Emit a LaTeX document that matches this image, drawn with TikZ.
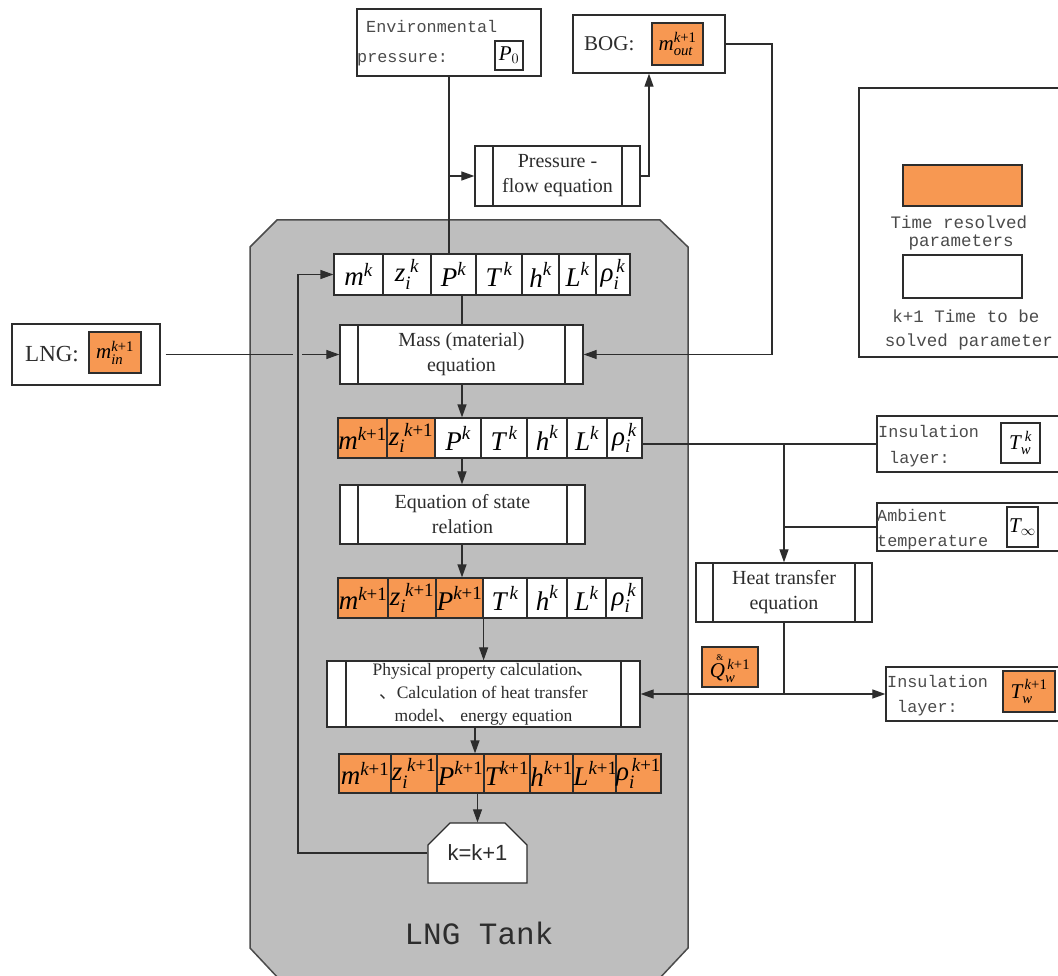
\documentclass[tikz,border=0pt]{standalone}
\usepackage{amsmath}
\usepackage{fontspec}
\setmainfont{Liberation Serif}
\newfontfamily\monof{Liberation Mono}
\newfontfamily\sansf{Liberation Sans}
\newfontfamily\cjk{Noto Sans CJK SC}
\usetikzlibrary{arrows.meta,shapes.misc,calc}
\definecolor{orng}{RGB}{247,152,82}
\definecolor{tankgray}{RGB}{190,190,190}
\definecolor{ink}{RGB}{45,45,45}
\definecolor{monogray}{RGB}{75,75,75}
\newcommand\vi[1]{\textit{#1}}
\newcommand\kp{\text{\itshape k\upshape +1}}
\newcommand\cc{{\cjk 、}}
\tikzset{
  cell/.style={draw=ink, line width=1.2pt, fill=white, inner sep=0pt,
    font=\fontsize{27}{30}\selectfont},
  ocell/.style={cell, fill=orng},
  smallbox/.style={draw=ink, line width=1.2pt, fill=white, inner sep=0pt,
    font=\fontsize{21}{22}\selectfont},
  osmallbox/.style={smallbox, fill=orng},
  framebox/.style={draw=ink, line width=1.3pt, fill=white, inner sep=0pt},
  proc/.style={draw=ink, line width=1.3pt, fill=white, inner sep=0pt,
    align=center, text=ink, font=\fontsize{20}{25}\selectfont,
    path picture={\draw[ink, line width=1.2pt]
      ([xshift=#1]path picture bounding box.north west) --
      ([xshift=#1]path picture bounding box.south west)
      ([xshift=-#1]path picture bounding box.north east) --
      ([xshift=-#1]path picture bounding box.south east);}},
  proc/.default=18pt,
  monolbl/.style={font=\monof\fontsize{16.8}{18}\selectfont, text=monogray, inner sep=0pt},
  conn/.style={draw=ink, line width=1.2pt},
  arr/.style={conn, -{Triangle[length=13pt,width=9pt]}},
}
\begin{document}
\begin{tikzpicture}[x=1pt,y=-1pt]
\useasboundingbox (0,0) rectangle (1058,976);
\fill[white] (0,0) rectangle (1058,976);
% tank
\filldraw[fill=tankgray, draw=monogray, line width=1.5pt]
  (277,220) -- (660,220) -- (688,247) -- (688,948) -- (658,980)
  -- (280,980) -- (250,948) -- (250,247) -- cycle;
\node[font=\monof\fontsize{31}{34}\selectfont, text=ink] (tanklbl) at (479,933) {LNG Tank};

% environmental pressure
\node[framebox, minimum width=184pt, minimum height=67pt] (env) at (449,42.5) {};
\node[monolbl, anchor=base west] (envt1) at (366,33) {Environmental};
\node[monolbl, anchor=base west] (envt2) at (357,63) {pressure:};
\node[smallbox, minimum width=28pt, minimum height=29pt] (p0) at (509,55.5) {$\vi{P}_{0}$};

% BOG
\node[framebox, minimum width=152pt, minimum height=58pt] (bog) at (649,44) {};
\node[anchor=west, inner sep=0pt, text=ink, font=\fontsize{21}{22}\selectfont] (bogt) at (584,44) {BOG:};
\node[osmallbox, minimum width=51pt, minimum height=42pt] (mout) at (677.5,44) {$\vi{m}_{\vi{out}}^{\kp}$};

% pressure-flow equation
\node[proc, minimum width=165pt, minimum height=60pt] (press) at (557.5,176) {Pressure -\\flow equation};

% LNG inflow
\node[framebox, minimum width=148pt, minimum height=61pt] (lng) at (86,354.5) {};
\node[anchor=west, inner sep=0pt, text=ink, font=\fontsize{23}{24}\selectfont] (lngt) at (25,354.5) {LNG:};
\node[osmallbox, minimum width=52pt, minimum height=41pt] (min) at (115,352.5) {$\vi{m}_{\vi{in}}^{\kp}$};

% legend
\node[framebox, minimum width=203pt, minimum height=269pt] (legend) at (960.5,222.5) {};
\node[framebox, fill=orng, minimum width=119pt, minimum height=41pt] (legor) at (962.5,185.5) {};
\node[monolbl, font=\monof\fontsize{17.5}{18}\selectfont, anchor=base] (legt1) at (959,229) {Time resolved};
\node[monolbl, font=\monof\fontsize{17.5}{18}\selectfont, anchor=base] (legt2) at (961,247) {parameters};
\node[framebox, minimum width=119pt, minimum height=43pt] (legwh) at (962.5,276.5) {};
\node[monolbl, font=\monof\fontsize{17.5}{18}\selectfont, anchor=base] (legt3) at (966,323) {k+1 Time to be};
\node[monolbl, font=\monof\fontsize{17.5}{18}\selectfont, anchor=base] (legt4) at (969,347) {solved parameter};

% row 1
\node[cell, minimum width=49pt, minimum height=41pt] (r1m) at (358.5,274.5) {$\vi{m}^{\vi{k}}$};
\node[cell, minimum width=48pt, minimum height=41pt] (r1z) at (407,274.5) {$\vi{z}_{\vi{i}}^{\;\vi{k}}$};
\node[cell, minimum width=45pt, minimum height=41pt] (r1P) at (453.5,274.5) {$\vi{P}^{\vi{k}}$};
\node[cell, minimum width=46pt, minimum height=41pt] (r1T) at (499,274.5) {$\vi{T}^{\,\vi{k}}$};
\node[cell, minimum width=37pt, minimum height=41pt] (r1h) at (540.5,274.5) {$\vi{h}^{\vi{k}}$};
\node[cell, minimum width=37pt, minimum height=41pt] (r1L) at (577.5,274.5) {$\vi{L}^{\vi{k}}$};
\node[cell, minimum width=34pt, minimum height=41pt] (r1r) at (613,274.5) {$\vi{ρ}_{\vi{i}}^{\,\vi{k}}$};

% mass equation
\node[proc, minimum width=243pt, minimum height=59pt] (mass) at (461.5,354.5) {Mass (material)\\equation};

% row 2
\node[ocell, minimum width=49pt, minimum height=40pt] (r2m) at (362.5,438) {$\vi{m}^{\kp}$};
\node[ocell, minimum width=48pt, minimum height=40pt] (r2z) at (411,438) {$\vi{z}_{\vi{i}}^{\;\kp}$};
\node[cell, minimum width=46pt, minimum height=40pt] (r2P) at (458,438) {$\vi{P}^{\vi{k}}$};
\node[cell, minimum width=46pt, minimum height=40pt] (r2T) at (504,438) {$\vi{T}^{\,\vi{k}}$};
\node[cell, minimum width=40pt, minimum height=40pt] (r2h) at (547,438) {$\vi{h}^{\vi{k}}$};
\node[cell, minimum width=40pt, minimum height=40pt] (r2L) at (587,438) {$\vi{L}^{\vi{k}}$};
\node[cell, minimum width=35pt, minimum height=40pt] (r2r) at (624.5,438) {$\vi{ρ}_{\vi{i}}^{\,\vi{k}}$};

% equation of state
\node[proc, minimum width=245pt, minimum height=59pt] (eos) at (462.5,514.5) {Equation of state\\relation};

% row 3
\node[ocell, minimum width=50pt, minimum height=40pt] (r3m) at (363,598) {$\vi{m}^{\kp}$};
\node[ocell, minimum width=48pt, minimum height=40pt] (r3z) at (412,598) {$\vi{z}_{\vi{i}}^{\;\kp}$};
\node[ocell, minimum width=47pt, minimum height=40pt] (r3P) at (459.5,598) {$\vi{P}^{\kp}$};
\node[cell, minimum width=44pt, minimum height=40pt] (r3T) at (505,598) {$\vi{T}^{\,\vi{k}}$};
\node[cell, minimum width=40pt, minimum height=40pt] (r3h) at (547,598) {$\vi{h}^{\vi{k}}$};
\node[cell, minimum width=39pt, minimum height=40pt] (r3L) at (586.5,598) {$\vi{L}^{\vi{k}}$};
\node[cell, minimum width=36pt, minimum height=40pt] (r3r) at (624,598) {$\vi{ρ}_{\vi{i}}^{\,\vi{k}}$};

% physical property box
\node[proc=19pt, minimum width=313pt, minimum height=66pt, font=\fontsize{17.5}{23}\selectfont] (phys) at (483.5,694)
  {Physical property calculation\cc\\\cc Calculation of heat transfer\\model\cc\ energy equation};

% row 4
\node[ocell, minimum width=52pt, minimum height=39pt] (r4m) at (365,773.5) {$\vi{m}^{\kp}$};
\node[ocell, minimum width=46pt, minimum height=39pt] (r4z) at (414,773.5) {$\vi{z}_{\vi{i}}^{\;\kp}$};
\node[ocell, minimum width=47pt, minimum height=39pt] (r4P) at (460.5,773.5) {$\vi{P}^{\kp}$};
\node[ocell, minimum width=46pt, minimum height=39pt] (r4T) at (507,773.5) {$\vi{T}^{\kp}$};
\node[ocell, minimum width=43pt, minimum height=39pt] (r4h) at (551.5,773.5) {$\vi{h}^{\kp}$};
\node[ocell, minimum width=45pt, minimum height=39pt] (r4L) at (595.5,773.5) {$\vi{L}^{\kp}$};
\node[ocell, minimum width=41pt, minimum height=39pt] (r4r) at (638.5,773.5) {$\vi{ρ}_{\vi{i}}^{\,\kp}$};

% k=k+1
\node[chamfered rectangle, chamfered rectangle corners={north west,north east},
  chamfered rectangle xsep=13pt, chamfered rectangle ysep=14pt,
  draw=ink, line width=1.3pt, fill=white, inner sep=0pt,
  minimum width=99pt, minimum height=60pt, text=ink,
  font=\sansf\fontsize{22}{24}\selectfont] (kbox) at (477.5,853) {k=k+1};

% right side
\node[framebox, minimum width=185pt, minimum height=56pt] (ins1) at (969.5,444) {};
\node[monolbl, anchor=base west] (ins1t1) at (878,437) {Insulation};
\node[monolbl, anchor=base west] (ins1t2) at (889,463) {layer:};
\node[smallbox, minimum width=39pt, minimum height=40pt] (tw) at (1020.5,443) {$\vi{T}_{\vi{w}}^{\;\vi{k}}$};

\node[framebox, minimum width=185pt, minimum height=48pt] (amb) at (969.5,527) {};
\node[monolbl, anchor=base west] (ambt1) at (877,521) {Ambient};
\node[monolbl, anchor=base west] (ambt2) at (877,546) {temperature};
\node[smallbox, minimum width=31pt, minimum height=40pt] (tinf) at (1022.5,527) {$\vi{T}_{\infty}$};

\node[proc=17pt, minimum width=176pt, minimum height=59pt] (heat) at (784,592.5) {Heat transfer\\equation};

\node[osmallbox, minimum width=56pt, minimum height=40pt] (qbox) at (730,667)
  {$\overset{\raisebox{-7pt}{\small\hspace{5pt}\&}}{\vi{Q}}{}_{\vi{w}}^{\,\kp}$};

\node[framebox, minimum width=176pt, minimum height=54pt] (ins2) at (974,694) {};
\node[monolbl, anchor=base west] (ins2t1) at (887,687) {Insulation};
\node[monolbl, anchor=base west] (ins2t2) at (897,712) {layer:};
\node[osmallbox, minimum width=52pt, minimum height=41pt] (tw1) at (1029,691.5) {$\vi{T}_{\vi{w}}^{\,\kp}$};

% helper coordinates
\coordinate (col) at (462,0);
\coordinate (loopx) at (298,0);
\coordinate (bogturn) at (772,44);
\coordinate (physx) at (475,0);

% connectors
\draw[conn] (env.south) -- (env.south |- r1P.north);
\draw[arr] (env.south |- press.west) -- (press.west);
\draw[arr] (press.east) -| (bog.south);
\draw[arr] (bog.east) -- (bogturn) |- (mass.east);
\draw[conn] (col |- r1P.south) -- (col |- mass.north);
\draw[arr] (col |- mass.south) -- (col |- r2P.north);
\draw[arr] (col |- r2P.south) -- (col |- eos.north);
\draw[arr] (col |- eos.south) -- (col |- r3P.north);
\draw[arr] (r3P.south east) -- (r3P.south east |- phys.north);
\draw[arr] (physx |- phys.south) -- (physx |- r4P.north);
\draw[arr] (kbox.north |- r4P.south) -- (kbox.north);
\draw[arr] (kbox.west) -- (loopx |- kbox.west) -- (loopx |- r1m.west) -- (r1m.west);
\draw[conn] ([xshift=5pt]lng.east) -- ([xshift=-5pt]loopx |- mass.west);
\draw[arr] ([xshift=4pt]loopx |- mass.west) -- (mass.west);
\draw[conn] (r2r.east |- ins1.west) -- (ins1.west);
\draw[arr] (heat.north |- ins1.west) -- (heat.north);
\draw[conn] (amb.west) -- (heat.north |- amb.west);
\draw[conn] (heat.south) -- (heat.south |- phys.east);
\draw[arr] (heat.south |- phys.east) -- (phys.east);
\draw[arr] (heat.south |- ins2.west) -- (ins2.west);
\end{tikzpicture}
\end{document}
